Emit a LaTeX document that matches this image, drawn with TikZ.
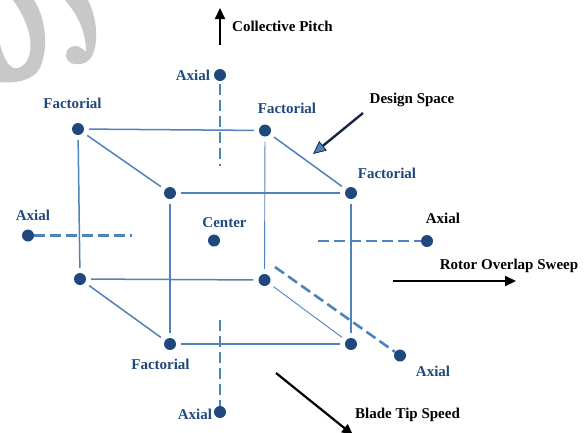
\documentclass[tikz,border=0pt]{standalone}
\usepackage{fontspec}
\setmainfont{Liberation Serif}
\usetikzlibrary{arrows.meta}
\definecolor{navy}{RGB}{31,73,125}
\definecolor{lblue}{RGB}{79,129,189}
\definecolor{wm}{RGB}{200,200,200}
\definecolor{darrow}{RGB}{22,38,66}
\begin{document}
\begin{tikzpicture}[x=1pt,y=-1pt,
  dotnode/.style={circle,fill=navy,inner sep=0pt,minimum size=12pt},
  cubeline/.style={lblue,line width=1.5pt,shorten <=5pt,shorten >=5pt},
  thinline/.style={lblue,line width=0.9pt,shorten <=5pt,shorten >=5pt},
  axisdash/.style={lblue,line width=2.6pt,dash pattern=on 11pt off 5pt},
  lbl/.style={font=\bfseries\fontsize{15}{18}\selectfont,text=navy,anchor=base,inner sep=0pt},
  blbl/.style={lbl,text=black},
  dirarrow/.style={black,line width=2.2pt,-{Triangle[length=11pt,width=10pt]}},
  designarrow/.style={darrow,line width=2.4pt,-{Triangle[length=13pt,width=12pt,line width=0.8pt,fill=lblue]}}
]
\useasboundingbox (0,0) rectangle (584,432);
% watermark
\fill[wm] (13,0) -- (34,0) .. controls (44,15) and (50,45) .. (40,68)
  .. controls (34,80) and (15,84) .. (0,82) -- (0,44)
  .. controls (4,60) and (10,70) .. (18,68)
  .. controls (33,64) and (38,35) .. (13,0) -- cycle;
\fill[wm] (65,0) -- (88,0) .. controls (97,18) and (99,42) .. (92,56)
  .. controls (88,63) and (82,65) .. (75,64)
  .. controls (70,64) and (66,60) .. (66,55)
  .. controls (66,50) and (70,46) .. (75,46)
  .. controls (80,46) and (83,49) .. (86,52)
  .. controls (86,32) and (78,15) .. (65,0) -- cycle;

% dots
\node[dotnode] (btl) at (78,129) {};
\node[dotnode] (btr) at (265,130.5) {};
\node[dotnode] (ftl) at (170,193) {};
\node[dotnode] (ftr) at (351,193) {};
\node[dotnode] (bbl) at (80,279) {};
\node[dotnode] (bbr) at (264.5,280) {};
\node[dotnode] (fbl) at (170,344) {};
\node[dotnode] (fbr) at (351,344) {};
\node[dotnode] (ctr) at (214,240.5) {};
\node[dotnode] (axt) at (220,75) {};
\node[dotnode] (axl) at (28,235.5) {};
\node[dotnode] (axr) at (427,241) {};
\node[dotnode] (axb) at (220,412) {};
\node[dotnode] (axd) at (400,355.5) {};

% cube edges
\draw[cubeline] (btl) -- (btr);
\draw[cubeline] (btl) -- (bbl);
\draw[cubeline] (btl) -- (ftl);
\draw[cubeline] (btr) -- (ftr);
\draw[thinline] (btr) -- (bbr);
\draw[cubeline] (ftl) -- (ftr);
\draw[cubeline] (ftl) -- (fbl);
\draw[cubeline] (ftr) -- (fbr);
\draw[cubeline] (bbl) -- (bbr);
\draw[cubeline] (bbl) -- (fbl);
\draw[thinline] (bbr) -- (fbr);
\draw[cubeline] (fbl) -- (fbr);

% axial dashed lines
\coordinate (dt) at (220,166);
\coordinate (dl) at (132,235.5);
\coordinate (dr) at (318,241);
\coordinate (db) at (220,320);
\coordinate (dd) at (275,267);
\draw[axisdash,shorten <=3pt] (axt) -- (dt);
\draw[axisdash] (axl) -- (dl);
\draw[axisdash] (dr) -- (axr);
\draw[axisdash] (db) -- (axb);
\draw[axisdash] (dd) -- (axd);

% direction arrows
\coordinate (cpa) at (220,45);
\coordinate (cpb) at (220,8);
\draw[dirarrow] (cpa) -- (cpb);
\coordinate (roa) at (393,281);
\coordinate (rob) at (516,281);
\draw[dirarrow] (roa) -- (rob);
\coordinate (bta) at (276,373);
\coordinate (btb) at (353,435);
\draw[dirarrow] (bta) -- (btb);
\coordinate (dsa) at (363,113);
\coordinate (dsb) at (313,154);
\draw[designarrow] (dsa) -- (dsb);

% labels
\node[blbl,anchor=base west] (lcp) at (232,31) {Collective Pitch};
\node[lbl] (lax1) at (193,80) {Axial};
\node[lbl] (lf1) at (72.5,108) {Factorial};
\node[lbl] (lf2) at (287,113) {Factorial};
\node[blbl] (lds) at (412,103) {Design Space};
\node[lbl] (lf3) at (387,178) {Factorial};
\node[lbl] (lax2) at (33,220) {Axial};
\node[lbl] (lctr) at (224.5,227) {Center};
\node[blbl] (lax3) at (443,223) {Axial};
\node[blbl] (lros) at (509,269) {Rotor Overlap Sweep};
\node[lbl] (lf4) at (160.5,369) {Factorial};
\node[lbl] (lax4) at (433,376) {Axial};
\node[lbl] (lax5) at (195,419) {Axial};
\node[blbl] (lbts) at (407.5,418) {Blade Tip Speed};
\end{tikzpicture}
\end{document}
